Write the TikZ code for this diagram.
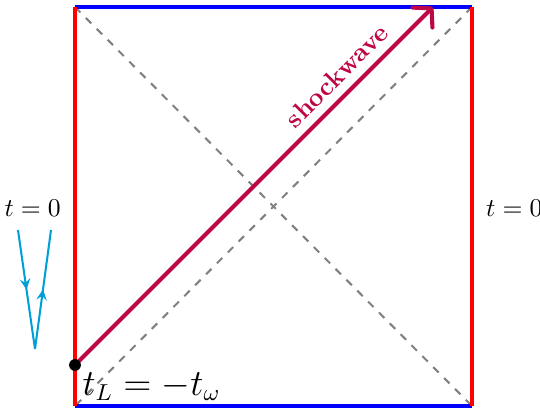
\documentclass[tikz,border=0pt]{standalone}
\usetikzlibrary{arrows,arrows.meta,positioning,decorations.markings}

\definecolor{probecol}{RGB}{0,160,215}
\definecolor{shockcol}{RGB}{190,5,70}

\begin{document}
\begin{tikzpicture}[
    x=0.0137cm, y=-0.0137cm,
    every node/.style={font=\normalsize},
    wall/.style={line width=1.7pt, draw=#1},
    wall/.default=red,
    diag/.style={dashed, gray, line width=0.8pt},
    shock/.style={-{Straight Barb[round, length=5pt, width=11pt]}, line width=1.6pt, draw=shockcol},
    probe/.style={line width=0.8pt, draw=probecol, postaction={decorate},
        decoration={markings, mark=at position 0.5 with {\arrow{stealth}}}}
]
    \useasboundingbox (0,0) rectangle (540,410);

    % Corners of the diagram
    \coordinate (tl) at (75,7);
    \coordinate (tr) at (472,7);
    \coordinate (bl) at (75,406);
    \coordinate (br) at (472,406);
    \coordinate (lmid) at (75,208);
    \coordinate (rmid) at (472,208);
    \coordinate (shockend) at (433,7);

    % Horizons
    \draw[diag] (tl) -- (br);
    \draw[diag] (tr) -- (bl);

    % Boundaries
    \draw[wall=blue] (tl) -- (tr);
    \draw[wall=blue] (bl) -- (br);
    \draw[wall] (tl) -- (bl);
    \draw[wall] (tr) -- (br);

    % Shockwave
    \coordinate (dot) at (75,365);
    \draw[shock] (dot) -- node[pos=0.77, sloped, above, font=\bfseries, text=shockcol] (shocklabel) {shockwave} (shockend);
    \node[circle, fill=black, inner sep=0pt, minimum size=4.6pt] (dotmark) at (dot) {};
    \node[below right=0pt and 0pt of dotmark, font=\fontsize{13.5}{16}\selectfont, inner sep=1pt] (tlabel) {$t_L=-t_\omega$};

    % Time labels
    \node[left=2pt of lmid] (tleft) {$t=0$};
    \node[right=2pt of rmid] (tright) {$t=0$};

    % Probe
    \coordinate (pa) at (18,230);
    \coordinate (pb) at (35,349);
    \coordinate (pc) at (51,230);
    \draw[probe] (pa) -- (pb);
    \draw[probe] (pb) -- (pc);
\end{tikzpicture}
\end{document}
